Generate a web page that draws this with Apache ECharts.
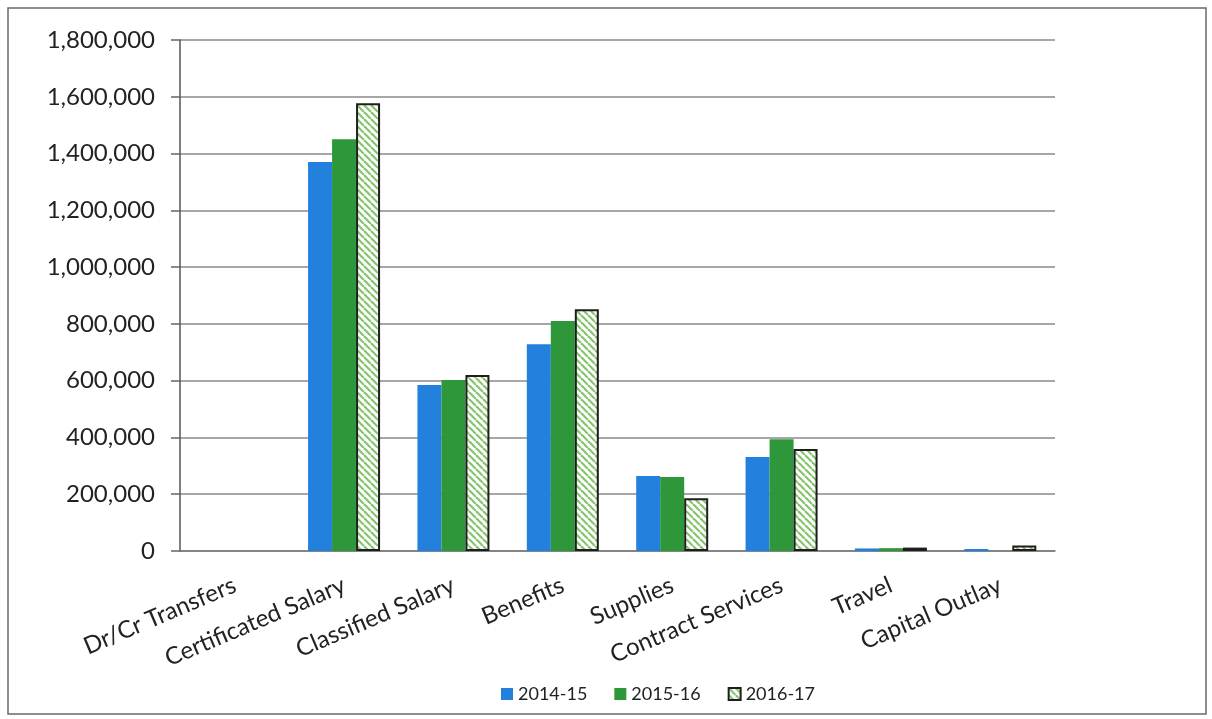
<!DOCTYPE html>
<html>
<head>
<meta charset="utf-8">
<script src="https://cdn.jsdelivr.net/npm/echarts@6/dist/echarts.min.js"></script>
<style>
  html, body { margin: 0; padding: 0; background: #ffffff; }
  #chart { width: 1212px; height: 719px; }
</style>
</head>
<body>
<div id="chart"></div>
<script>
// Expenditure by object category, three fiscal years
const categories = ['Dr/Cr Transfers', 'Certificated Salary', 'Classified Salary', 'Benefits',
                    'Supplies', 'Contract Services', 'Travel', 'Capital Outlay'];
const fy2014 = [0, 1370000, 585000, 728000, 264000, 331000, 9000, 7000];
const fy2015 = [0, 1450000, 602000, 810000, 261000, 394000, 10000, 0];
const fy2016 = [0, 1577000, 620000, 852000, 186000, 359000, 12000, 19000];
const seriesNames = ['2014-15', '2015-16', '2016-17'];
const yTicks = { min: 0, max: 1800000, interval: 200000 };

// zero amounts draw no bar (and no outline)
const asBars = arr => arr.map(v => (v === 0 ? '-' : v));

// diagonal green hatch used for the 2016-17 bars
function hatchPattern() {
  const c = document.createElement('canvas');
  const s = 7;
  c.width = s; c.height = s;
  const g = c.getContext('2d');
  g.fillStyle = '#ffffff';
  g.fillRect(0, 0, s, s);
  g.strokeStyle = '#86c46e';
  g.lineWidth = 2.2;
  for (let k = -1; k <= 1; k++) {
    g.beginPath();
    g.moveTo(k * s, 0);
    g.lineTo(k * s + s, s);
    g.stroke();
  }
  return c;
}

const chart = echarts.init(document.getElementById('chart'), null, { renderer: 'canvas' });
const FONT = 'Lato, "Open Sans", sans-serif';

chart.setOption({
  backgroundColor: '#ffffff',
  animation: false,
  graphic: [{
    type: 'rect',
    shape: { x: 8, y: 8, width: 1198, height: 706 },
    style: { fill: 'none', stroke: '#6a6a6a', lineWidth: 1.5 },
    silent: true, z: -1
  }],
  grid: { left: 180, right: 157, top: 40, bottom: 168 },
  legend: {
    data: seriesNames,
    left: 496, top: 680,
    itemWidth: 12, itemHeight: 12, itemGap: 27,
    icon: 'rect',
    textStyle: { fontFamily: FONT, fontSize: 18, color: '#222' }
  },
  xAxis: {
    type: 'category',
    data: categories,
    axisLine: { show: true, lineStyle: { color: '#7a7a7a', width: 1.5 } },
    axisTick: { show: false },
    axisLabel: {
      rotate: 23, margin: 33, interval: 0,
      fontFamily: FONT, fontSize: 24, color: '#222'
    }
  },
  yAxis: {
    type: 'value',
    min: yTicks.min, max: yTicks.max, interval: yTicks.interval,
    axisLine: { show: true, lineStyle: { color: '#555', width: 1.5 } },
    axisTick: { show: true, length: 9, lineStyle: { color: '#666', width: 1.5 } },
    splitLine: { lineStyle: { color: '#8a8a8a', width: 1.5 } },
    axisLabel: {
      margin: 25, fontFamily: FONT, fontSize: 24, color: '#222',
      formatter: v => v.toLocaleString('en-US')
    }
  },
  series: [
    { name: seriesNames[0], type: 'bar', data: asBars(fy2014), barWidth: 24, barGap: '0%',
      itemStyle: { color: '#2380dd' } },
    { name: seriesNames[1], type: 'bar', data: asBars(fy2015), barWidth: 24, barGap: '0%',
      itemStyle: { color: '#2e973a' } },
    { name: seriesNames[2], type: 'bar', data: asBars(fy2016), barWidth: 24, barGap: '0%',
      itemStyle: { color: { image: hatchPattern(), repeat: 'repeat' },
                   borderColor: '#1e1e1e', borderWidth: 2 } }
  ]
});
</script>
</body>
</html>
